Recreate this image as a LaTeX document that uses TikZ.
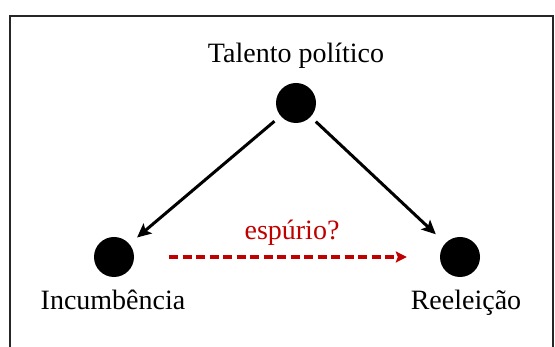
\documentclass[tikz,border=0pt]{standalone}
\usepackage{fontspec}
\setmainfont{Liberation Serif}
\usetikzlibrary{arrows.meta}
\definecolor{spur}{HTML}{C00000}
\tikzset{
  dot/.style={circle, fill=black, minimum size=40pt, inner sep=0pt},
  lbl/.style={font=\fontsize{28}{31}\selectfont, inner sep=0pt, anchor=base},
  causal/.style={line width=3pt, -{Stealth[length=14pt,width=13pt,inset=3pt]}},
  spurious/.style={line width=3.3pt, spur, dash pattern=on 9pt off 4.5pt, -{Stealth[length=11pt,width=11pt,inset=2pt]}},
  frame/.style={line width=1.4pt, draw=black!85}
}
\begin{document}
\begin{tikzpicture}[x=1pt,y=1pt]
\useasboundingbox (0,0) rectangle (555,-347);
\clip (0,0) rectangle (555,-347);
\fill[white] (0,0) rectangle (555,-347);
\draw[frame] (10,-16) rectangle (553,-360);
\node[dot] (t) at (296,-103) {};
\node[dot] (i) at (114,-257) {};
\node[dot] (r) at (460,-257) {};
\node[lbl] (tl) at (296,-63) {Talento político};
\node[lbl] (il) at (113,-310) {Incumbência};
\node[lbl] (rl) at (466,-310) {Reeleição};
\node[lbl, text=spur] (sl) at (292,-240) {espúrio?};
\draw[causal, shorten <=8pt, shorten >=10pt] (t) -- (i);
\draw[causal, shorten <=7pt, shorten >=13pt] (t) -- (r);
\draw[spurious, shorten <=35pt, shorten >=33pt] (i) -- (r);
\end{tikzpicture}
\end{document}
